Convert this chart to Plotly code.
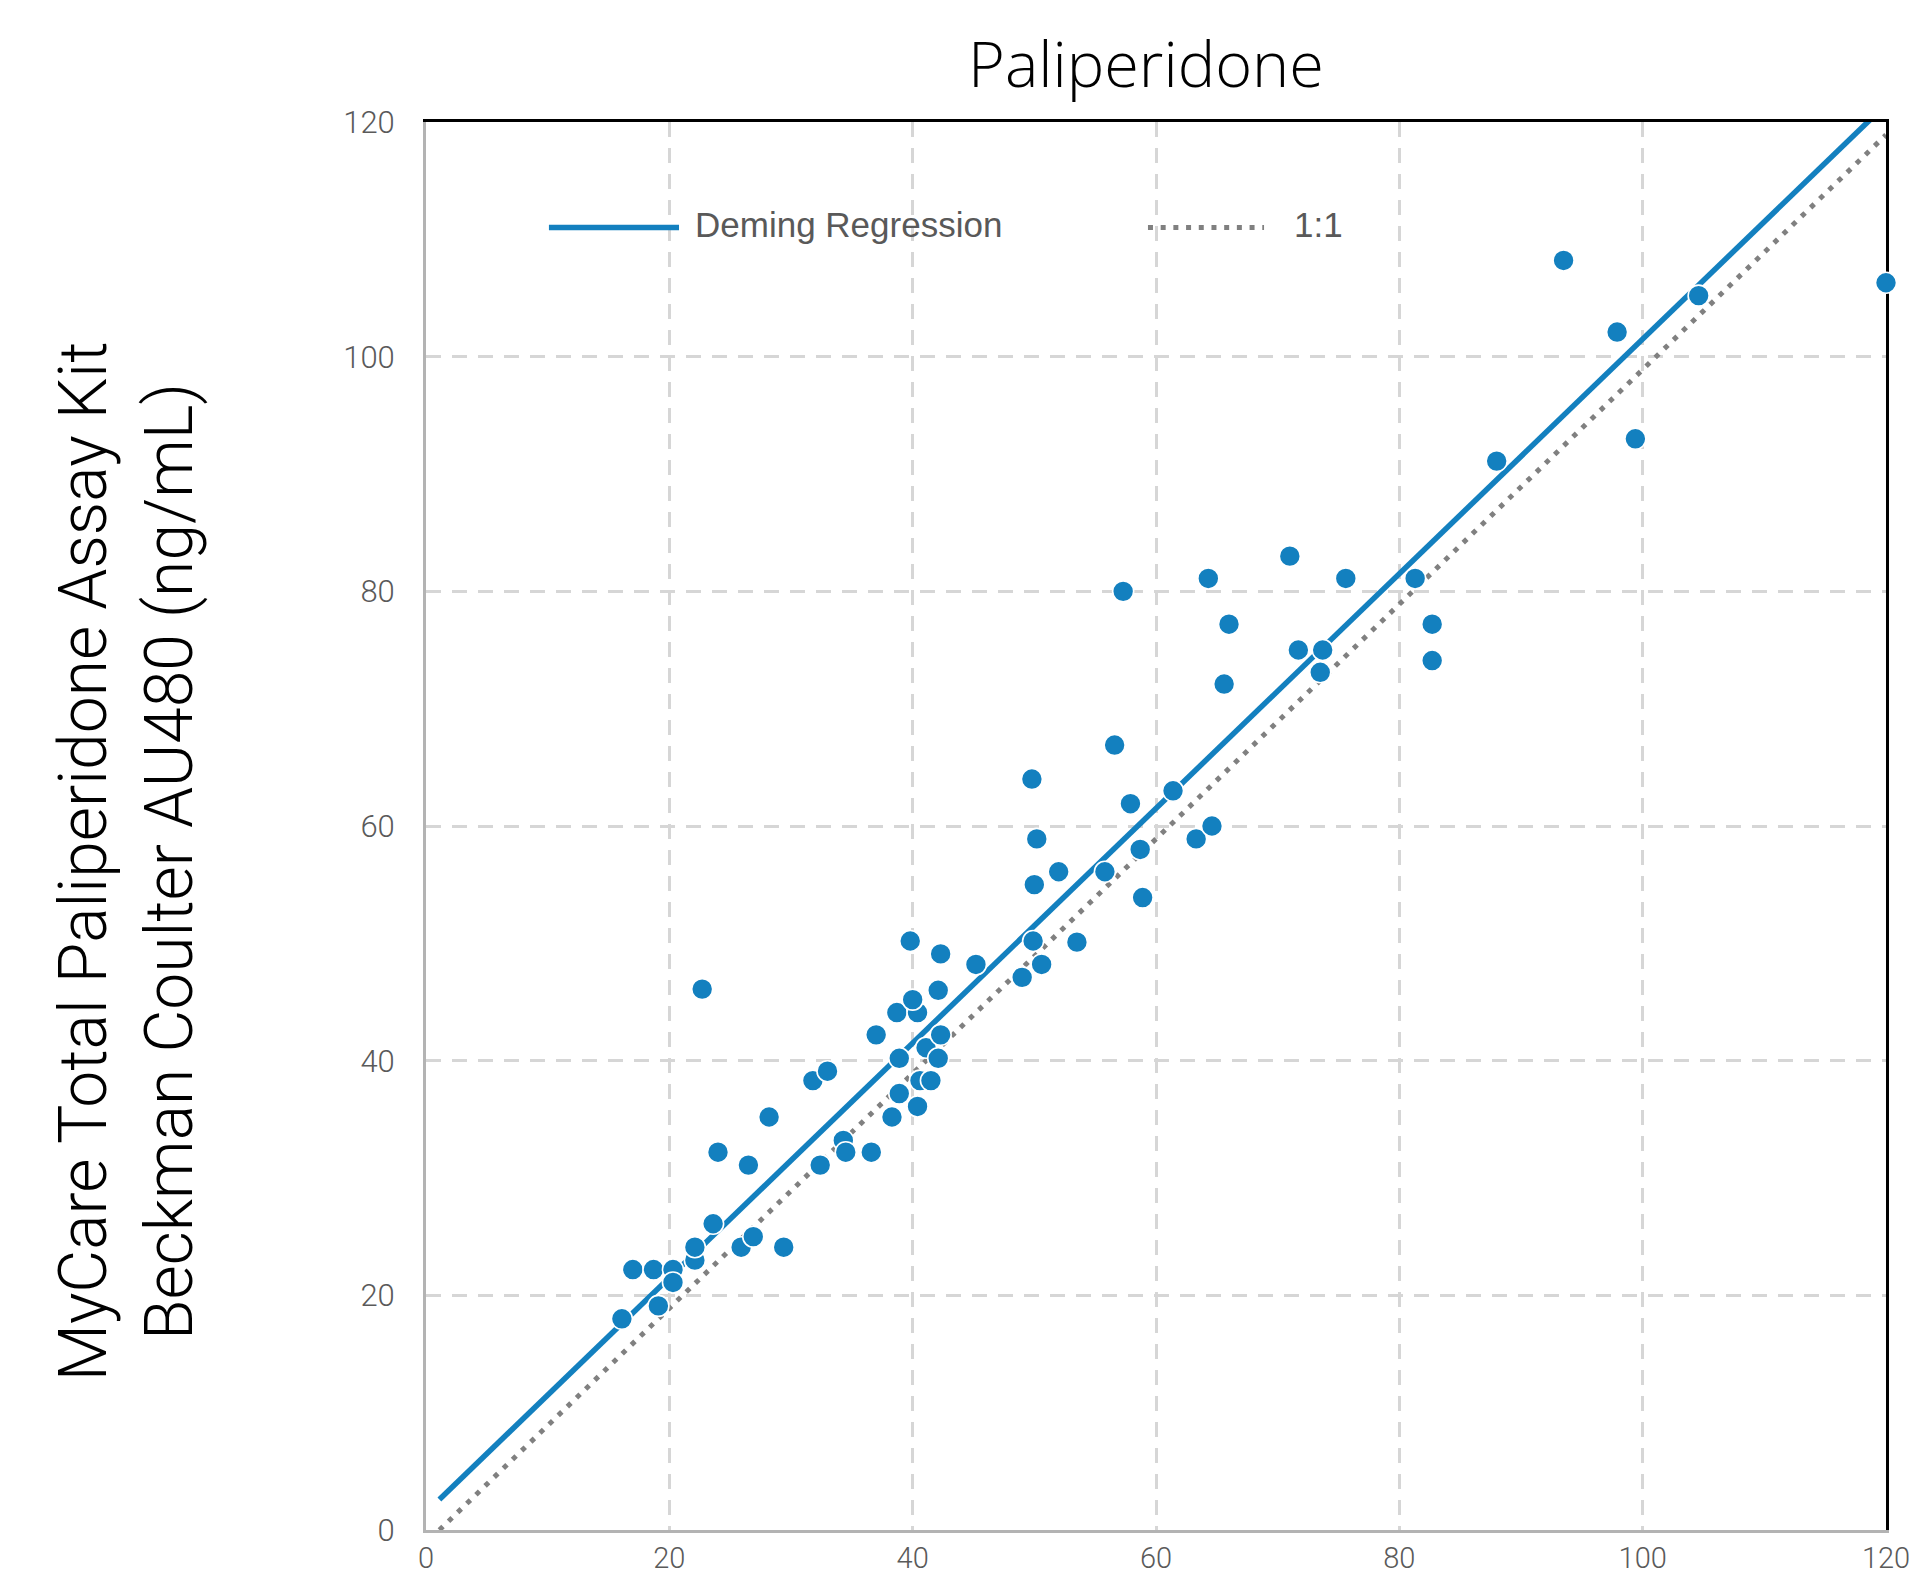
import plotly.graph_objects as go

# ---- data ----
comparator_x = [16.1, 17.0, 18.7, 19.1, 20.3, 20.3, 22.1, 22.1, 22.7, 23.6,
                24.0, 25.9, 26.5, 26.9, 28.2, 29.4, 31.8, 32.4, 33.0, 34.3,
                34.5, 36.6, 37.0, 38.3, 38.7, 38.9, 38.9, 39.8, 40.4, 40.0,
                40.4, 40.6, 41.5, 41.1, 42.1, 42.3, 42.3, 42.1, 45.2, 49.0,
                49.8, 49.9, 50.0, 50.2, 50.6, 52.0, 53.5, 55.8, 56.6, 57.3,
                57.9, 58.7, 58.9, 61.4, 63.3, 64.3, 64.6, 65.6, 66.0, 71.0,
                71.7, 73.5, 73.7, 75.6, 81.3, 82.7, 82.7, 88.0, 93.5, 97.9,
                99.4, 104.6, 120.0]
mycare_y = [18.0, 22.2, 22.2, 19.1, 22.2, 21.1, 23.0, 24.1, 46.1, 26.1,
            32.2, 24.1, 31.1, 25.0, 35.2, 24.1, 38.3, 31.1, 39.1, 33.2,
            32.2, 32.2, 42.2, 35.2, 44.1, 37.2, 40.2, 50.2, 44.1, 45.2,
            36.1, 38.3, 38.3, 41.1, 46.0, 49.1, 42.2, 40.2, 48.2, 47.1,
            64.0, 50.2, 55.0, 58.9, 48.2, 56.1, 50.1, 56.1, 66.9, 80.0,
            61.9, 58.0, 53.9, 63.0, 58.9, 81.1, 60.0, 72.1, 77.2, 83.0,
            75.0, 73.1, 75.0, 81.1, 81.1, 77.2, 74.1, 91.1, 108.2, 102.1,
            93.0, 105.2, 106.3]

deming_x = [1.1, 120.0]
deming_y = [2.6, 121.5]
identity_x = [1.1, 120.0]
identity_y = [0.0, 118.9]

tick_vals = [0, 20, 40, 60, 80, 100, 120]
tick_text = ["0", "20", "40", "60", "80", "100", "120"]

title_text = "Paliperidone"
ytitle_text = "MyCare Total Paliperidone Assay Kit<br>Beckman Coulter AU480 (ng/mL)"
legend_names = ["Deming Regression", "1:1"]

BLUE = "#1380BF"
GRAY_DOT = "#808080"
TICK_COLOR = "#5a5a5a"

fig = go.Figure()

fig.add_trace(go.Scatter(
    x=identity_x, y=identity_y, mode="lines",
    line=dict(color=GRAY_DOT, width=5, dash="5px,7.7px"),
    showlegend=False, hoverinfo="skip"))

fig.add_trace(go.Scatter(
    x=deming_x, y=deming_y, mode="lines",
    line=dict(color=BLUE, width=5.5),
    showlegend=False, hoverinfo="skip"))

fig.add_trace(go.Scatter(
    x=comparator_x, y=mycare_y, mode="markers",
    marker=dict(color=BLUE, size=21, line=dict(color="white", width=1.6)),
    showlegend=False, cliponaxis=False))

# empty helper trace so the frame axes (top / right) get drawn
fig.add_trace(go.Scatter(x=[], y=[], xaxis="x2", yaxis="y2", showlegend=False,
                         hoverinfo="skip"))

axis_common = dict(
    range=[0, 120], tickvals=tick_vals, ticktext=tick_text,
    showgrid=True, gridcolor="#d6d6d6", gridwidth=3, griddash="15px,11px",
    zeroline=False, showline=True, linecolor="#b3b3b3", linewidth=3,
    ticks="", automargin=False, ticklabeloverflow="allow",
    fixedrange=True,
)
frame_common = dict(
    range=[0, 120], showline=True, linecolor="black", linewidth=3, showgrid=False,
    showticklabels=False, ticks="", zeroline=False, layer="below traces",
    automargin=False, fixedrange=True,
)

fig.update_layout(
    width=1909, height=1579,
    margin=dict(l=426, r=23, t=122, b=49, autoexpand=False),
    paper_bgcolor="white", plot_bgcolor="white",
    showlegend=False,
    title=dict(text=title_text, x=0.6003, xanchor="center", y=0.959, yanchor="middle",
               font=dict(family="Open Sans, Liberation Sans, Arial", size=63, color="black",
                         weight=300)),
    xaxis=dict(**axis_common, ticklabelstandoff=0,
               tickfont=dict(family="Roboto, Liberation Sans, Arial", size=29,
                             color=TICK_COLOR, weight=300)),
    yaxis=dict(**axis_common, ticklabelstandoff=22,
               tickfont=dict(family="Roboto, Liberation Sans, Arial", size=31,
                             color=TICK_COLOR, weight=300)),
    xaxis2=dict(overlaying="x", side="top", anchor="y2", **frame_common),
    yaxis2=dict(overlaying="y", side="right", anchor="x2", **frame_common),
)

# y-axis title (two lines, rotated)
fig.add_annotation(
    text=ytitle_text, textangle=-90, xref="paper", yref="paper",
    x=-0.2055, y=0.475, xanchor="center", yanchor="middle", showarrow=False,
    font=dict(family="Roboto, Liberation Sans, Arial", size=66, color="black", weight=300),
)

# manual legend
fig.add_shape(type="line", xref="paper", yref="paper", x0=0.0842, x1=0.1733,
              y0=0.925, y1=0.925, line=dict(color=BLUE, width=5.5))
fig.add_annotation(text=legend_names[0], xref="paper", yref="paper", x=0.1829, y=0.9275,
                   xanchor="left", yanchor="middle", showarrow=False,
                   font=dict(family="Liberation Sans, Arial", size=35, color="#595959"))
fig.add_shape(type="line", xref="paper", yref="paper", x0=0.4945, x1=0.574,
              y0=0.925, y1=0.925, line=dict(color=GRAY_DOT, width=5, dash="5px,7.7px"))
fig.add_annotation(text=legend_names[1], xref="paper", yref="paper", x=0.593, y=0.9275,
                   xanchor="left", yanchor="middle", showarrow=False,
                   font=dict(family="Liberation Sans, Arial", size=35, color="#595959"))

fig.write_html("out.html")
